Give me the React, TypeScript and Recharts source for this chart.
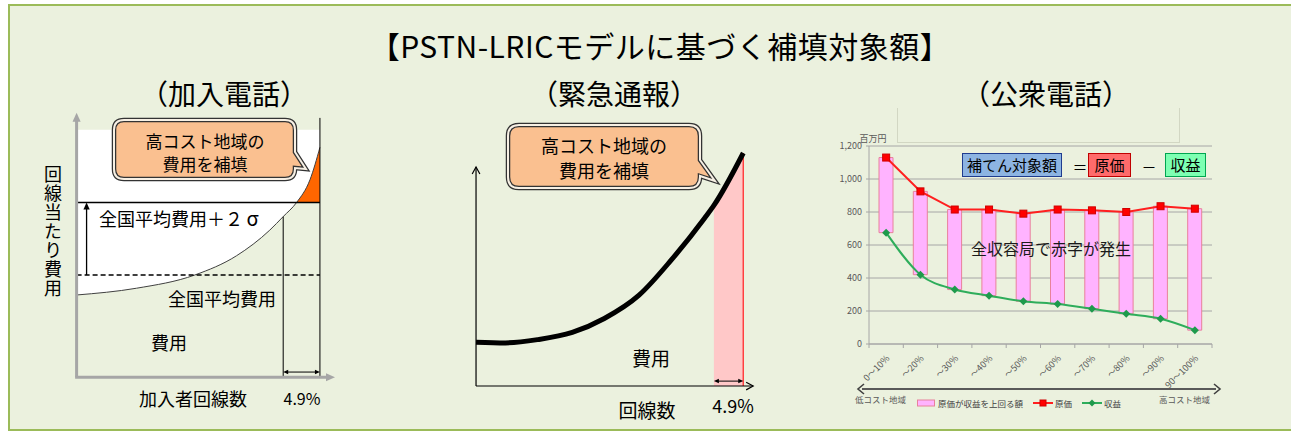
import React from "react";
import {
  ComposedChart,
  Area,
  Bar,
  Line,
  XAxis,
  YAxis,
  CartesianGrid,
  ReferenceLine,
  Legend,
} from "recharts";

const FONT = '"Noto Sans CJK JP", "Noto Sans", sans-serif';

// 公衆電話: 収容局をコスト順に10%ずつ区切ったもの（百万円）
const bands = ["0～10%", "～20%", "～30%", "～40%", "～50%", "～60%", "～70%", "～80%", "～90%", "90～100%"];
const cost = [1130, 925, 815, 815, 790, 815, 810, 800, 835, 820];
const revenue = [675, 420, 330, 293, 259, 242, 214, 183, 153, 84];
const yTicks = [0, 200, 400, 600, 800, 1000, 1200];

// 加入電話の概念図（任意単位 0-100）
const subX = [0, 24.6, 48.6, 65.7, 79.4, 84.9, 90.4, 95.9, 100];
const subCost = [30.4, 32.9, 37.8, 44.9, 54.4, 59.4, 64.6, 73, 85];
const subAvg = 37.8; // 全国平均費用
const subLimit = 64.6; // 全国平均費用＋2σ
const subTop = 91.5;

// 緊急通報の概念図（任意単位 0-100）
const emgX = [0, 11, 23, 36, 48, 61, 73, 85.5, 89, 100];
const emgCost = [18.8, 18.5, 19.9, 23, 29, 39, 54, 72, 77.5, 100];

const publicData = bands.map((band, i) => ({
  band,
  cost: cost[i],
  revenue: revenue[i],
  gap: [revenue[i], cost[i]],
}));

const subData = subX.map((x, i) => ({
  x,
  cost: subCost[i],
  white: [subCost[i], subTop],
  orange: subCost[i] >= subLimit ? [subLimit, subCost[subCost.length - 1]] : null,
}));

const emgData = emgX.map((x, i) => ({
  x,
  cost: emgCost[i],
  pink: i >= emgX.length - 2 ? [0, emgCost[i]] : null,
}));

const subCutIdx = 5;
const emgCutIdx = emgX.length - 2;

type ArrowOpt = {
  color: string;
  width?: number;
  size?: number;
  start?: boolean;
  end?: boolean;
  open?: boolean;
};

// ReferenceLine 用の矢印
const arrow =
  ({ color, width = 1, size = 7, start = false, end = true, open = false }: ArrowOpt) =>
  (p: any) => {
    const { x1, y1, x2, y2 } = p;
    const a = Math.atan2(y2 - y1, x2 - x1);
    const c = Math.cos(a);
    const s = Math.sin(a);
    const w = size * (open ? 0.55 : 0.45);
    const head = (tx: number, ty: number, dir: number) => {
      const bx = tx - dir * size * c;
      const by = ty - dir * size * s;
      const pts = `${bx - w * s},${by + w * c} ${tx},${ty} ${bx + w * s},${by - w * c}`;
      return open ? (
        <polyline points={pts} fill="none" stroke={color} strokeWidth={width} />
      ) : (
        <polygon points={pts} fill={color} />
      );
    };
    const trim = open ? 0 : size * 0.8;
    const sx = start ? x1 + trim * c : x1;
    const sy = start ? y1 + trim * s : y1;
    const ex = end ? x2 - trim * c : x2;
    const ey = end ? y2 - trim * s : y2;
    return (
      <g>
        <line x1={sx} y1={sy} x2={ex} y2={ey} stroke={color} strokeWidth={width} />
        {start && head(x1, y1, -1)}
        {end && head(x2, y2, 1)}
      </g>
    );
  };

const Txt = ({
  x,
  y,
  size,
  children,
  color = "#000",
  left = false,
  spacing = 0,
}: {
  x: number;
  y: number;
  size: number;
  children: React.ReactNode;
  color?: string;
  left?: boolean;
  spacing?: number;
}) => (
  <div
    style={{
      position: "absolute",
      left: x,
      top: y,
      transform: left ? "translate(0,-50%)" : "translate(-50%,-50%)",
      fontSize: size,
      lineHeight: 1,
      letterSpacing: spacing,
      whiteSpace: "nowrap",
      color,
    }}
  >
    {children}
  </div>
);

const calloutPath = (
  x: number,
  y: number,
  w: number,
  h: number,
  r: number,
  t1: number,
  tip: [number, number],
  t2: number,
) => {
  const R = x + w;
  const B = y + h;
  return `M${x + r},${y} H${R - r} Q${R},${y} ${R},${y + r} V${t1} L${tip[0]},${tip[1]} L${R},${t2} V${B - r} Q${R},${B} ${R - r},${B} H${x + r} Q${x},${B} ${x},${B - r} V${y + r} Q${x},${y} ${x + r},${y} Z`;
};

const BandTick = (props: any) => {
  const { x, y, payload, index } = props;
  const half = typeof payload?.offset === "number" && payload.offset > 0 ? payload.offset : 17.15;
  return (
    <g>
      <line x1={x - half} y1={y} x2={x - half} y2={y + 4} stroke="#A6A6A6" />
      {index === bands.length - 1 && (
        <line x1={x + half} y1={y} x2={x + half} y2={y + 4} stroke="#A6A6A6" />
      )}
      <text
        x={x + 4}
        y={y + 15}
        textAnchor="end"
        fontSize={9}
        fill="#595959"
        fontFamily={FONT}
        transform={`rotate(-45 ${x + 4} ${y + 15})`}
      >
        {payload.value}
      </text>
    </g>
  );
};

const CostRangeLabel = (props: any) => {
  const vb = props.viewBox || {};
  const { x = 0, y = 0, width = 0 } = vb;
  const ay = y + 45;
  const l = x - 11;
  const r = x + width + 8;
  return (
    <g>
      <line x1={l + 4} y1={ay} x2={r - 4} y2={ay} stroke="#595959" strokeWidth={2} />
      <polyline points={`${l + 6},${ay - 5} ${l},${ay} ${l + 6},${ay + 5}`} fill="none" stroke="#404040" strokeWidth={1.6} />
      <polyline points={`${r - 6},${ay - 5} ${r},${ay} ${r - 6},${ay + 5}`} fill="none" stroke="#404040" strokeWidth={1.6} />
      <text x={l - 3} y={ay + 14} fontSize={8.5} fill="#595959" fontFamily={FONT}>
        低コスト地域
      </text>
      <text x={r - 10} y={ay + 14} fontSize={8.5} fill="#595959" fontFamily={FONT} textAnchor="end">
        高コスト地域
      </text>
    </g>
  );
};

const PublicLegend = () => (
  <div
    style={{
      display: "flex",
      justifyContent: "center",
      alignItems: "center",
      height: 14,
      fontSize: 8.5,
      color: "#404040",
      fontFamily: FONT,
    }}
  >
    <svg width={18} height={8}>
      <rect x={0.5} y={1} width={17} height={6} fill="#FFB3FF" stroke="#E8829B" />
    </svg>
    <span style={{ marginLeft: 3, marginRight: 10 }}>原価が収益を上回る額</span>
    <svg width={20} height={8}>
      <line x1={0} y1={4} x2={20} y2={4} stroke="#FF1F1F" strokeWidth={2} />
      <rect x={7} y={1} width={6} height={6} fill="#FF0000" stroke="#D00000" />
    </svg>
    <span style={{ marginLeft: 2, marginRight: 10 }}>原価</span>
    <svg width={20} height={8}>
      <line x1={0} y1={4} x2={20} y2={4} stroke="#2EAD5B" strokeWidth={2} />
      <polygon points="10,0.5 13.5,4 10,7.5 6.5,4" fill="#1E9A4C" />
    </svg>
    <span style={{ marginLeft: 2 }}>収益</span>
  </div>
);

const SquareDot = (p: any) => (
  <rect key={`s${p.index}`} x={p.cx - 3.5} y={p.cy - 3.5} width={7} height={7} fill="#FF0000" stroke="#D00000" strokeWidth={1} />
);

const DiamondDot = (p: any) => (
  <polygon
    key={`d${p.index}`}
    points={`${p.cx},${p.cy - 4} ${p.cx + 4},${p.cy} ${p.cx},${p.cy + 4} ${p.cx - 4},${p.cy}`}
    fill="#1E9A4C"
  />
);

export default function App() {
  return (
    <div
      style={{
        position: "absolute",
        left: 0,
        top: 0,
        width: 1291,
        height: 432,
        overflow: "hidden",
        background: "#FFFFFF",
        fontFamily: FONT,
        color: "#000",
      }}
    >
      <div
        style={{
          position: "absolute",
          left: 8,
          top: 4,
          width: 1300,
          height: 423,
          border: "2px solid #9BBB59",
          background: "#EBF1DE",
        }}
      />

      <Txt x={660} y={45} size={30} spacing={0.5}>
        【PSTN-LRICモデルに基づく補填対象額】
      </Txt>
      <Txt x={224} y={93} size={28}>
        （加入電話）
      </Txt>
      <Txt x={614} y={93} size={28}>
        （緊急通報）
      </Txt>
      <Txt x={1046} y={93} size={28}>
        （公衆電話）
      </Txt>

      {/* 加入電話 */}
      <div style={{ position: "absolute", left: 62, top: 96 }}>
        <ComposedChart width={292} height={292} data={subData} margin={{ top: 0, right: 0, bottom: 0, left: 0 }}>
          <XAxis type="number" dataKey="x" domain={[-6, 114]} allowDataOverflow hide />
          <YAxis type="number" domain={[-4, 104]} allowDataOverflow hide />
          <Area type="linear" dataKey="orange" stroke="none" fill="#FF6600" fillOpacity={1} isAnimationActive={false} />
          <Area type="monotone" dataKey="white" stroke="none" fill="#FFFFFF" fillOpacity={1} isAnimationActive={false} />
          <Line type="monotone" dataKey="cost" stroke="#404040" strokeWidth={1} dot={false} isAnimationActive={false} />
          <ReferenceLine
            segment={[{ x: 0, y: subLimit }, { x: 100, y: subLimit }]}
            stroke="#000"
            strokeWidth={1.5}
            ifOverflow="visible"
          />
          <ReferenceLine
            segment={[{ x: 0, y: subAvg }, { x: 100, y: subAvg }]}
            stroke="#000"
            strokeWidth={1.3}
            strokeDasharray="5 3"
            ifOverflow="visible"
          />
          <ReferenceLine segment={[{ x: 100, y: 0 }, { x: 100, y: 95.9 }]} stroke="#000" strokeWidth={1} ifOverflow="visible" />
          <ReferenceLine
            segment={[{ x: subX[subCutIdx], y: 0 }, { x: subX[subCutIdx], y: subCost[subCutIdx] }]}
            stroke="#000"
            strokeWidth={1}
            ifOverflow="visible"
          />
          <ReferenceLine
            segment={[{ x: subX[subCutIdx], y: 1.9 }, { x: 100, y: 1.9 }]}
            ifOverflow="visible"
            shape={arrow({ color: "#000", width: 1, size: 5, start: true, end: true })}
          />
          <ReferenceLine
            segment={[{ x: 4.1, y: subAvg }, { x: 4.1, y: subLimit }]}
            ifOverflow="visible"
            shape={arrow({ color: "#000", width: 1.3, size: 7 })}
          />
          <ReferenceLine
            segment={[{ x: 0, y: 0 }, { x: 0, y: 97.8 }]}
            ifOverflow="visible"
            shape={arrow({ color: "#A6A6A6", width: 3, size: 9 })}
          />
          <ReferenceLine
            segment={[{ x: -0.6, y: 0 }, { x: 106.2, y: 0 }]}
            ifOverflow="visible"
            shape={arrow({ color: "#A6A6A6", width: 3, size: 9 })}
          />
        </ComposedChart>
      </div>

      {/* 緊急通報 */}
      <div style={{ position: "absolute", left: 460, top: 139 }}>
        <ComposedChart width={310} height={261} data={emgData} margin={{ top: 0, right: 0, bottom: 0, left: 0 }}>
          <XAxis type="number" dataKey="x" domain={[-6, 110]} allowDataOverflow hide />
          <YAxis type="number" domain={[-6, 106]} allowDataOverflow hide />
          <Area type="linear" dataKey="pink" stroke="none" fill="#FFC8C8" fillOpacity={1} isAnimationActive={false} />
          <ReferenceLine
            segment={[{ x: 100, y: 0 }, { x: 100, y: 100 }]}
            stroke="#FF4040"
            strokeWidth={1.5}
            ifOverflow="visible"
          />
          <Line type="monotone" dataKey="cost" stroke="#000" strokeWidth={5} dot={false} isAnimationActive={false} />
          <ReferenceLine
            segment={[{ x: emgX[emgCutIdx], y: 2.1 }, { x: 100, y: 2.1 }]}
            ifOverflow="visible"
            shape={arrow({ color: "#000", width: 1, size: 5, start: true, end: true })}
          />
          <ReferenceLine
            segment={[{ x: 0, y: 0 }, { x: 0, y: 94 }]}
            ifOverflow="visible"
            shape={arrow({ color: "#000", width: 1.2, size: 7, open: true })}
          />
          <ReferenceLine
            segment={[{ x: 0, y: 0 }, { x: 103.7, y: 0 }]}
            ifOverflow="visible"
            shape={arrow({ color: "#000", width: 1.2, size: 7, open: true })}
          />
        </ComposedChart>
      </div>

      {/* 公衆電話 */}
      <div
        style={{
          position: "absolute",
          left: 897,
          top: 108,
          width: 281,
          height: 34,
          borderLeft: "1px solid #D2D7C3",
          borderRight: "1px solid #D2D7C3",
          borderBottom: "1px solid #D2D7C3",
        }}
      />
      <div style={{ position: "absolute", left: 826, top: 130 }}>
        <ComposedChart width={404} height={280} data={publicData} margin={{ top: 16, right: 18, bottom: 0, left: 0 }}>
          <CartesianGrid vertical={false} stroke="#A6A6A6" />
          <XAxis
            dataKey="band"
            interval={0}
            height={52}
            tickLine={false}
            tickSize={0}
            tickMargin={0}
            axisLine={{ stroke: "#A6A6A6" }}
            tick={<BandTick />}
            label={{ content: <CostRangeLabel /> }}
          />
          <YAxis
            domain={[0, 1200]}
            ticks={yTicks}
            width={43}
            tickSize={3}
            tickMargin={4}
            tick={{ fontSize: 9, fill: "#595959", fontFamily: FONT }}
            tickFormatter={(v: number) => v.toLocaleString("en-US")}
            axisLine={{ stroke: "#A6A6A6" }}
            tickLine={{ stroke: "#A6A6A6" }}
          />
          <Bar dataKey="gap" barSize={14} fill="#FFB3FF" stroke="#E8829B" strokeWidth={1} isAnimationActive={false} />
          <Line
            type="linear"
            dataKey="cost"
            stroke="#FF1F1F"
            strokeWidth={2}
            dot={SquareDot}
            isAnimationActive={false}
          />
          <Line
            type="monotone"
            dataKey="revenue"
            stroke="#2EAD5B"
            strokeWidth={2}
            dot={DiamondDot}
            isAnimationActive={false}
          />
          <Legend verticalAlign="bottom" content={() => <PublicLegend />} />
        </ComposedChart>
      </div>

      <Txt x={873} y={138} size={9} color="#595959">
        百万円
      </Txt>

      {/* 補てん対象額 = 原価 − 収益 */}
      <div
        style={{
          position: "absolute",
          left: 962,
          top: 153,
          width: 98,
          height: 22,
          border: "1.5px solid #1F3C8F",
          background: "#8DB4E2",
          fontSize: 15,
          lineHeight: "22px",
          textAlign: "center",
        }}
      >
        補てん対象額
      </div>
      <Txt x={1080} y={166} size={15}>
        ＝
      </Txt>
      <div
        style={{
          position: "absolute",
          left: 1088,
          top: 153,
          width: 41,
          height: 22,
          border: "1.5px solid #C00000",
          background: "#FF6B6B",
          fontSize: 15,
          lineHeight: "22px",
          textAlign: "center",
        }}
      >
        原価
      </div>
      <Txt x={1149} y={166} size={15}>
        －
      </Txt>
      <div
        style={{
          position: "absolute",
          left: 1165,
          top: 153,
          width: 39,
          height: 22,
          border: "1.5px solid #00A550",
          background: "#7DFFB2",
          fontSize: 15,
          lineHeight: "22px",
          textAlign: "center",
        }}
      >
        収益
      </div>
      <Txt x={1051} y={248} size={16} color="#1A1A1A">
        全収容局で赤字が発生
      </Txt>

      {/* 吹き出し */}
      <svg width={1291} height={432} style={{ position: "absolute", left: 0, top: 0, pointerEvents: "none" }}>
        <path d={calloutPath(114, 120, 181, 59, 10, 152, [306, 169], 168)} fill="#FAC090" stroke="#333" strokeWidth={4.5} />
        <path d={calloutPath(114, 120, 181, 59, 10, 152, [306, 169], 168)} fill="none" stroke="#F7F0E4" strokeWidth={2} />
        <path d={calloutPath(508, 125, 192, 63, 11, 160, [715, 181], 176)} fill="#FAC090" stroke="#333" strokeWidth={4.5} />
        <path d={calloutPath(508, 125, 192, 63, 11, 160, [715, 181], 176)} fill="none" stroke="#F7F0E4" strokeWidth={2} />
      </svg>

      <Txt x={205} y={140} size={17}>
        高コスト地域の
      </Txt>
      <Txt x={205} y={163} size={17}>
        費用を補填
      </Txt>
      <Txt x={604} y={145} size={18}>
        高コスト地域の
      </Txt>
      <Txt x={604} y={170} size={18}>
        費用を補填
      </Txt>

      {/* 加入電話の文字 */}
      <div
        style={{
          position: "absolute",
          left: 44,
          top: 165,
          writingMode: "vertical-rl",
          fontSize: 18,
          lineHeight: "18px",
          letterSpacing: 1,
          whiteSpace: "nowrap",
        }}
      >
        回線当たり費用
      </div>
      <Txt x={99} y={218} size={18} left>
        全国平均費用＋２
        <span style={{ display: "inline-block", width: 19, textAlign: "center", fontSize: 20 }}>σ</span>
      </Txt>
      <Txt x={222} y={298} size={18}>
        全国平均費用
      </Txt>
      <Txt x={169} y={342} size={18}>
        費用
      </Txt>
      <Txt x={193} y={398} size={18}>
        加入者回線数
      </Txt>
      <Txt x={302} y={398} size={16}>
        4.9%
      </Txt>

      {/* 緊急通報の文字 */}
      <Txt x={651} y={357} size={19}>
        費用
      </Txt>
      <Txt x={647} y={409} size={19}>
        回線数
      </Txt>
      <Txt x={733} y={405} size={18}>
        4.9%
      </Txt>
    </div>
  );
}
